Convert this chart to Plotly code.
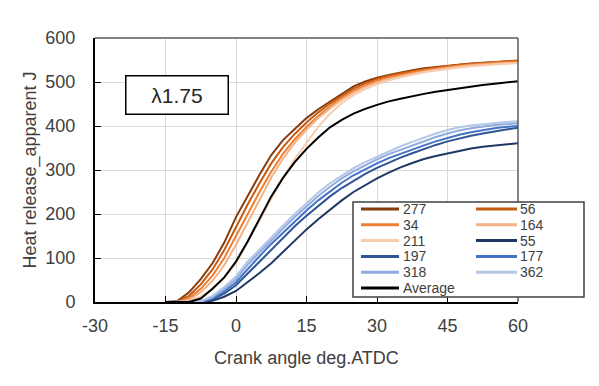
import plotly.graph_objects as go

# ---------------- data ----------------
crank_angle = [-15, -12.5, -10, -7.5, -5, -2.5, 0, 2.5, 5, 7.5, 10, 12.5, 15, 17.5, 20,
               22.5, 25, 27.5, 30, 32.5, 35, 37.5, 40, 42.5, 45, 47.5, 50, 52.5, 55, 57.5, 60]

hr_277 = [0, 2, 22, 52, 88, 135, 193, 242, 289, 334, 368, 393, 418, 438, 456, 474,
          490, 501, 510, 516, 522, 527, 531, 534, 537, 540, 542, 544, 545, 547, 548]
hr_56 = [0, 0, 14, 40, 74, 118, 170, 222, 270, 315, 352, 382, 408, 431, 451, 469,
         485, 497, 507, 514, 520, 525, 529, 533, 536, 539, 541, 543, 545, 547, 549]
hr_34 = [0, 0, 8, 30, 60, 100, 150, 200, 250, 296, 337, 370, 398, 423, 445, 464,
         480, 493, 503, 511, 517, 522, 527, 531, 534, 537, 540, 542, 544, 545, 546]
hr_164 = [0, 0, 5, 22, 48, 84, 130, 182, 234, 283, 326, 362, 392, 418, 440, 460,
          476, 489, 499, 507, 513, 519, 524, 528, 532, 535, 538, 540, 542, 543, 544]
hr_211 = [0, 0, 2, 12, 30, 55, 88, 135, 185, 235, 282, 325, 362, 398, 428, 452,
          470, 484, 495, 504, 511, 517, 522, 526, 530, 533, 536, 538, 540, 542, 543]
hr_55 = [0, 0, 0, 0, 3, 12, 25, 45, 66, 88, 114, 140, 165, 188, 210, 231,
         250, 266, 281, 294, 306, 316, 325, 332, 338, 344, 349, 353, 356, 359, 361]
hr_197 = [0, 0, 0, 0, 6, 19, 38, 65, 92, 119, 146, 172, 196, 219, 240, 259,
          276, 291, 305, 317, 328, 338, 348, 357, 365, 372, 378, 383, 388, 392, 396]
hr_177 = [0, 0, 0, 0, 8, 24, 45, 75, 104, 132, 158, 183, 208, 231, 252, 271,
          288, 302, 315, 327, 337, 347, 356, 365, 373, 380, 386, 391, 395, 398, 400]
hr_318 = [0, 0, 0, 1, 11, 29, 52, 85, 113, 141, 167, 193, 218, 241, 262, 281,
          297, 311, 324, 336, 346, 356, 366, 375, 383, 390, 395, 399, 402, 404, 406]
hr_362 = [0, 0, 0, 2, 14, 34, 58, 92, 120, 148, 174, 200, 225, 249, 270, 288,
          304, 318, 330, 342, 354, 364, 374, 383, 391, 397, 401, 404, 407, 409, 411]
hr_average = [0, 0, 0, 8, 30, 56, 92, 138, 190, 240, 282, 318, 348, 374, 397, 414,
              428, 439, 448, 456, 462, 468, 473, 478, 482, 486, 490, 493, 496, 499, 502]

series_names = ["277", "56", "34", "164", "211", "55", "197", "177", "318", "362", "Average"]
series_values = [hr_277, hr_56, hr_34, hr_164, hr_211, hr_55, hr_197, hr_177, hr_318, hr_362, hr_average]
series_colors = ["#843c0c", "#c55a11", "#ed7d31", "#f4b183", "#f8cbad",
                 "#203864", "#2f5597", "#4472c4", "#8faadc", "#b4c7e7", "#000000"]

x_ticks = [-30, -15, 0, 15, 30, 45, 60]
x_tick_labels = ["-30", "-15", "0", "15", "30", "45", "60"]
y_ticks = [0, 100, 200, 300, 400, 500, 600]
label_text = "λ1.75"

# ---------------- figure ----------------
# The page body has an 8 px default margin, so target window pixels are
# converted to figure pixels by subtracting OFF.
OFF = 8
W, H = 599, 386
PLOT_L, PLOT_R, PLOT_T, PLOT_B = 95, 518, 38, 302      # window pixels
ML, MR = PLOT_L - OFF, W - (PLOT_R - OFF)
MT, MB = PLOT_T - OFF, H - (PLOT_B - OFF)
PW, PH = PLOT_R - PLOT_L, PLOT_B - PLOT_T
FONT = "Liberation Sans, Arial, sans-serif"
TXT = "#404040"

fig = go.Figure()
for name, vals, col in zip(series_names, series_values, series_colors):
    fig.add_trace(go.Scatter(x=crank_angle, y=vals, mode="lines", name=name,
                             line=dict(color=col, width=2), showlegend=False))

def px_x(p):
    return (p - PLOT_L) / PW

def px_y(p):
    return (PLOT_B - p) / PH

shapes = [
    dict(type="line", xref="x domain", yref="y domain", x0=0, x1=1, y0=1, y1=1,
         line=dict(color="#595959", width=1.5), layer="above"),
    dict(type="line", xref="x domain", yref="y domain", x0=1, x1=1, y0=0, y1=1,
         line=dict(color="#595959", width=1.5), layer="above"),
    dict(type="rect", xref="paper", yref="paper",
         x0=px_x(353), x1=px_x(584), y0=px_y(297), y1=px_y(202),
         fillcolor="white", line=dict(color="#404040", width=1.5), layer="above"),
]
annotations = []

legend_rows = [("277", "56"), ("34", "164"), ("211", "55"), ("197", "177"),
               ("318", "362"), ("Average", None)]
col_geom = [(361, 399, 402), (476, 517, 519)]
for r, pair in enumerate(legend_rows):
    ypx = 209 + 15.8 * r
    for c, nm in enumerate(pair):
        if nm is None:
            continue
        col = series_colors[series_names.index(nm)]
        lx0, lx1, tx = col_geom[c]
        shapes.append(dict(type="line", xref="paper", yref="paper",
                           x0=px_x(lx0), x1=px_x(lx1), y0=px_y(ypx), y1=px_y(ypx),
                           line=dict(color=col, width=3), layer="above"))
        annotations.append(dict(xref="paper", yref="paper", x=px_x(tx), y=px_y(ypx),
                                text=nm, showarrow=False, xanchor="left", yanchor="middle",
                                borderpad=0,
                                font=dict(family=FONT, size=14, color=TXT)))

annotations.append(dict(xref="paper", yref="paper", x=px_x(177), y=px_y(95),
                        text=label_text, showarrow=False, xanchor="center", yanchor="middle",
                        width=97, height=33, borderpad=2, borderwidth=1.5,
                        bordercolor="#000000", bgcolor="white",
                        font=dict(family=FONT, size=21, color="#262626")))

fig.update_layout(
    width=W, height=H,
    margin=dict(l=ML, r=MR, t=MT, b=MB, autoexpand=False),
    paper_bgcolor="white", plot_bgcolor="white",
    font=dict(family=FONT, size=18, color=TXT),
    shapes=shapes, annotations=annotations,
    xaxis=dict(range=[-30, 60], tickvals=x_ticks, ticktext=x_tick_labels,
               ticks="inside", ticklen=6,
               tickcolor="#000000", showline=True, linecolor="#000000", linewidth=2,
               showgrid=True, gridcolor="#d9d9d9", gridwidth=1, zeroline=False,
               ticklabelstandoff=6, automargin=False,
               title=dict(text="Crank angle deg.ATDC", standoff=17,
                          font=dict(family=FONT, size=18, color=TXT))),
    yaxis=dict(range=[0, 600], tickvals=y_ticks, ticks="inside", ticklen=6,
               tickcolor="#000000", showline=True, linecolor="#000000", linewidth=2,
               showgrid=True, gridcolor="#d9d9d9", gridwidth=1, zeroline=False,
               ticklabelstandoff=14, automargin=False,
               title=dict(text="Heat release_apparent J", standoff=4,
                          font=dict(family=FONT, size=18, color=TXT))),
)

fig.write_html("out.html")
